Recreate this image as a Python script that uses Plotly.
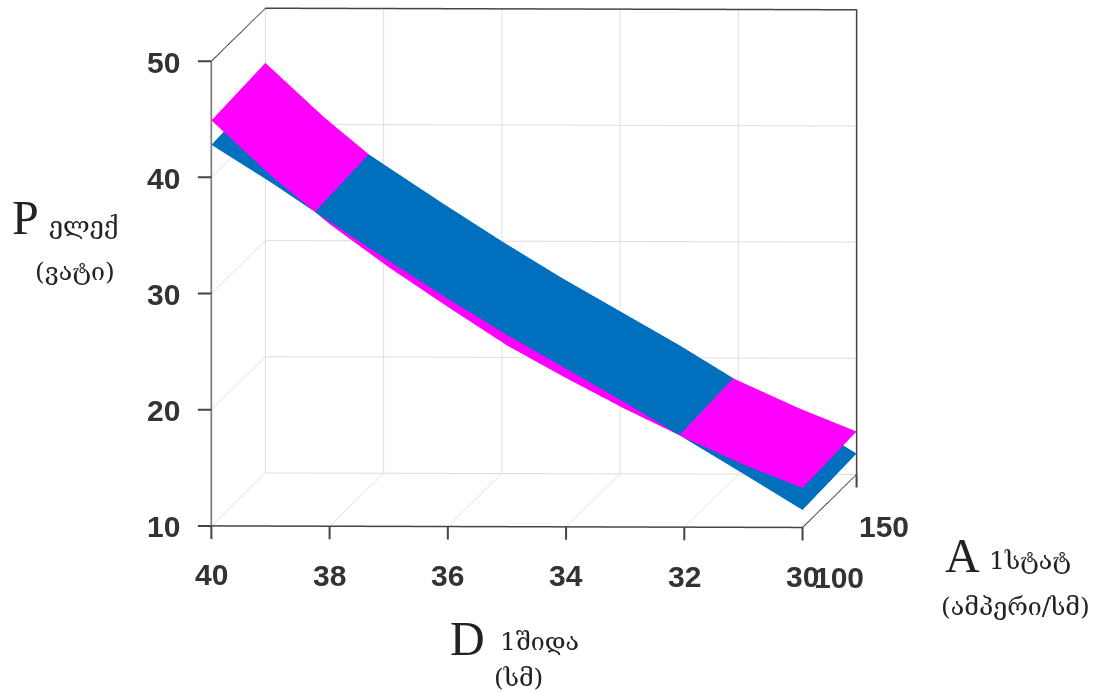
import plotly.graph_objects as go

D = [30, 31, 32, 33, 34, 35, 36, 37, 38, 39, 40]
A = [100, 150]
P_ticks = [10, 20, 30, 40, 50]
D_ticks = [40, 38, 36, 34, 32, 30]
A_ticks = [100, 150]
blue_front = [11.5, 14.6, 17.65, 20.7, 23.6, 26.5, 29.6, 32.85, 36.2, 39.6, 42.8]
blue_back = [11.8, 14.95, 18.0, 21.1, 24.0, 26.9, 30.0, 33.25, 36.6, 40.0, 43.2]
pink_front = [13.4, 15.4, 17.7, 20.15, 22.8, 25.6, 28.9, 32.3, 36.0, 40.2, 44.9]
pink_back = [13.7, 15.75, 18.05, 20.55, 23.2, 26.0, 29.3, 32.7, 36.4, 40.6, 45.3]

TICK_COLOR = "#444444"
tick_font = dict(family="Liberation Sans", size=30, color="#333333")
serif = "Liberation Serif"
geo = "DejaVu Serif"
W, H = 1099, 694

labels = [
    ("P", 25, 217, serif, 48), ("ელექ", 83, 225, geo, 25), ("(ვატი)", 75, 271, geo, 25),
    ("D", 467, 638, serif, 48), ("1შიდა", 539, 641, geo, 25), ("(სმ)", 518, 677, geo, 25),
    ("A", 962, 555, serif, 48), ("1სტატ", 1030, 560, geo, 25), ("(ამპერი/სმ)", 1015, 606, geo, 25),
]


def surf(front, back, color):
    return go.Surface(
        x=D, y=A, z=[front, back],
        colorscale=[[0, color], [1, color]], showscale=False,
        lighting=dict(ambient=1, diffuse=0, specular=0, roughness=1, fresnel=0),
        contours=dict(x=dict(highlight=False), y=dict(highlight=False), z=dict(highlight=False)),
    )


def axis(rng, ticks):
    return dict(
        range=rng, tickvals=ticks, showticklabels=False,
        title=dict(text=""), showbackground=False, gridcolor="#dedede", gridwidth=2,
        showline=True, linecolor=TICK_COLOR, linewidth=3, ticks="", mirror=True, zeroline=False,
        showspikes=False,
    )


def tick_note(x, y, z, text, dx, dy):
    return dict(x=x, y=y, z=z, text=f"<b>{text}</b>", showarrow=False, xshift=dx, yshift=dy,
                xanchor="center", yanchor="middle", font=tick_font)


def tick_mark(x, y, z, ax, ay):
    return dict(x=x, y=y, z=z, text=" ", showarrow=True, ax=ax, ay=ay, arrowhead=0, standoff=0,
                arrowwidth=2, arrowcolor=TICK_COLOR, font=dict(size=1))


notes = [tick_note(40, A_ticks[0], p, p, -48, -1) for p in P_ticks]
notes += [tick_note(d, A_ticks[0], P_ticks[0], d, 0, -49) for d in D_ticks]
notes += [tick_note(D_ticks[-1], A_ticks[0], P_ticks[0], A_ticks[0], 36, -50),
          tick_note(D_ticks[-1], A_ticks[1], P_ticks[0], A_ticks[1], 27, -52)]
notes += [tick_mark(40, A_ticks[0], p, -15, 0) for p in P_ticks]
notes += [tick_mark(d, A_ticks[0], P_ticks[0], 0, 15) for d in D_ticks]
notes += [tick_mark(D_ticks[-1], A_ticks[1], P_ticks[0], 0, 15)]

DIST = 2.5
CX, CZ = 0.0448, -0.2283
fig = go.Figure([surf(blue_front, blue_back, "#0070BE"), surf(pink_front, pink_back, "#FF00FF")])
fig.update_layout(
    width=W, height=H, margin=dict(l=0, r=0, t=0, b=0),
    paper_bgcolor="white", showlegend=False,
    scene=dict(
        domain=dict(x=[0, 1], y=[0, 1]),
        xaxis=axis([40, 30], D_ticks),
        yaxis=axis([100, 150], A_ticks),
        zaxis=axis([10, 50], P_ticks),
        annotations=notes,
        aspectmode="manual", aspectratio=dict(x=1.706, y=3, z=1.341),
        camera=dict(
            projection=dict(type="orthographic"),
            up=dict(x=0, y=0, z=1),
            center=dict(x=CX, y=0, z=CZ),
            eye=dict(x=CX + 0.0520 * DIST, y=-DIST, z=CZ + 0.0511 * DIST),
        ),
    ),
    annotations=[
        dict(text=t, x=x / W, y=1 - y / H, xref="paper", yref="paper", showarrow=False,
             xanchor="center", yanchor="middle", font=dict(family=f, size=s, color="#222222"))
        for t, x, y, f, s in labels
    ],
)
fig.write_html("out.html", config=dict(displayModeBar=False),
               post_script="document.body.style.margin='0';document.body.style.overflow='hidden';")
